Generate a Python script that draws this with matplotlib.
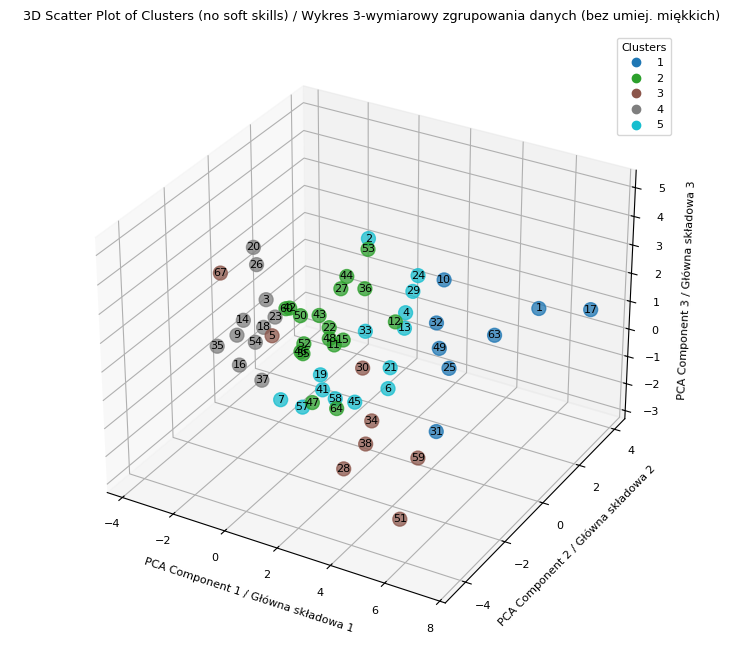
import numpy as np
import matplotlib.pyplot as plt

# point labels, cluster id and PCA coords
labels = [1, 17, 10, 63, 32, 49, 25, 31,
          53, 44, 27, 36, 60, 42, 50, 43, 22, 12, 52, 48, 15, 11, 46, 55, 47, 64,
          67, 5, 30, 34, 38, 59, 28, 51,
          20, 26, 3, 14, 18, 23, 9, 54, 35, 16, 37,
          2, 24, 29, 4, 13, 33, 21, 6, 19, 41, 58, 45, 7, 57]
clusters = [1] * 8 + [2] * 18 + [3] * 8 + [4] * 11 + [5] * 14
pc1 = [6.84, 7.76, 3.30, 5.23, 3.03, 3.15, 3.53, 3.07,
       1.54, 0.73, 0.50, 1.42, -1.65, -1.50, -1.08, -0.35, 0.04, 2.58, -0.96, 0.04, 0.58, 0.23, -1.08, -1.00, -0.65, 0.31,
       -3.37, -0.55, 2.88, 3.22, 2.99, 4.95, 2.15, 5.04,
       -2.47, -2.36, -2.01, -2.93, -2.13, -1.67, -3.20, -2.47, -4.01, -3.13, -2.24,
       1.17, 3.05, 2.86, 2.59, 2.55, 1.05, 2.01, 1.93, -0.72, -0.64, -0.14, 0.63, -2.33, -1.45]
pc2 = [1.5, 3.0, 1.5, 1.5, 1.5, 1.5, 1.5, 1.5,
       0, 0, 0, 0, 0, 0, 0, 0, 0, 0, 0, 0, 0, 0, 0, 0, 0, 0,
       -1.0, -2.0, -2.0, -2.0, -2.0, -2.0, -2.0, -3.0,
       -0.5, -0.5, -0.5, -0.5, -0.5, -0.5, -0.5, -0.5, -0.5, -0.5, -0.5,
       0.5, 0.5, 0.5, 0.5, 0.5, 0.5, 0.5, 0.5, 0.5, 0.5, 0.5, 0.5, 0.5, 0.5]
pc3 = [2.27, 1.56, 2.35, 0.90, 0.75, -0.13, -0.75, -3.20,
       3.85, 2.70, 2.21, 2.45, 0.94, 1.00, 0.84, 1.04, 0.71, 1.59, -0.14, 0.31, 0.41, 0.14, -0.46, -0.51, -2.20, -2.15,
       2.36, 1.50, 1.30, -0.46, -1.35, -1.28, -2.49, -2.75,
       3.20, 2.62, 1.47, 0.49, 0.45, 0.94, -0.12, -0.18, -0.74, -1.19, -1.50,
       3.84, 3.03, 2.43, 1.61, 1.05, 0.54, -0.51, -1.29, -1.52, -2.05, -2.24, -2.15, -2.89, -2.92]

cluster_colors = {1: '#1f77b4', 2: '#2ca02c', 3: '#8c564b', 4: '#7f7f7f', 5: '#17becf'}

fig = plt.figure(figsize=(7.44, 6.54), dpi=100)
ax = fig.add_subplot(111, projection='3d')
ax.set_position([0.045, 0.02, 0.885, 0.92])

cols = [cluster_colors[c] for c in clusters]
ax.scatter(pc1, pc2, pc3, c=cols, s=100, alpha=0.75)
for x, y, z, lab in zip(pc1, pc2, pc3, labels):
    ax.text(x, y, z, str(lab), fontsize=8, ha='center', va='center')

ax.set_xlim(-4.6, 8.2)
ax.set_ylim(-5.0, 4.6)
ax.set_zlim(-3.3, 5.6)
ax.set_xticks([-4, -2, 0, 2, 4, 6, 8])
ax.set_yticks([-4, -2, 0, 2, 4])
ax.set_zticks([-3, -2, -1, 0, 1, 2, 3, 4, 5])
ax.tick_params(labelsize=8)
ax.set_xlabel('PCA Component 1 / Główna składowa 1', fontsize=8)
ax.set_ylabel('PCA Component 2 / Główna składowa 2', fontsize=8)
ax.set_zlabel('PCA Component 3 / Główna składowa 3', fontsize=8)

handles = [plt.Line2D([], [], marker='o', linestyle='', color=cluster_colors[k], markersize=6)
           for k in cluster_colors]
fig.legend(handles, [str(k) for k in cluster_colors], title='Clusters', fontsize=8,
           title_fontsize=8, loc='upper right', bbox_to_anchor=(0.91, 0.95))

fig.suptitle('3D Scatter Plot of Clusters (no soft skills) / Wykres 3-wymiarowy zgrupowania danych (bez umiej. miękkich)',
             fontsize=9.3, y=0.985)
fig.savefig('out.png', dpi=100)
